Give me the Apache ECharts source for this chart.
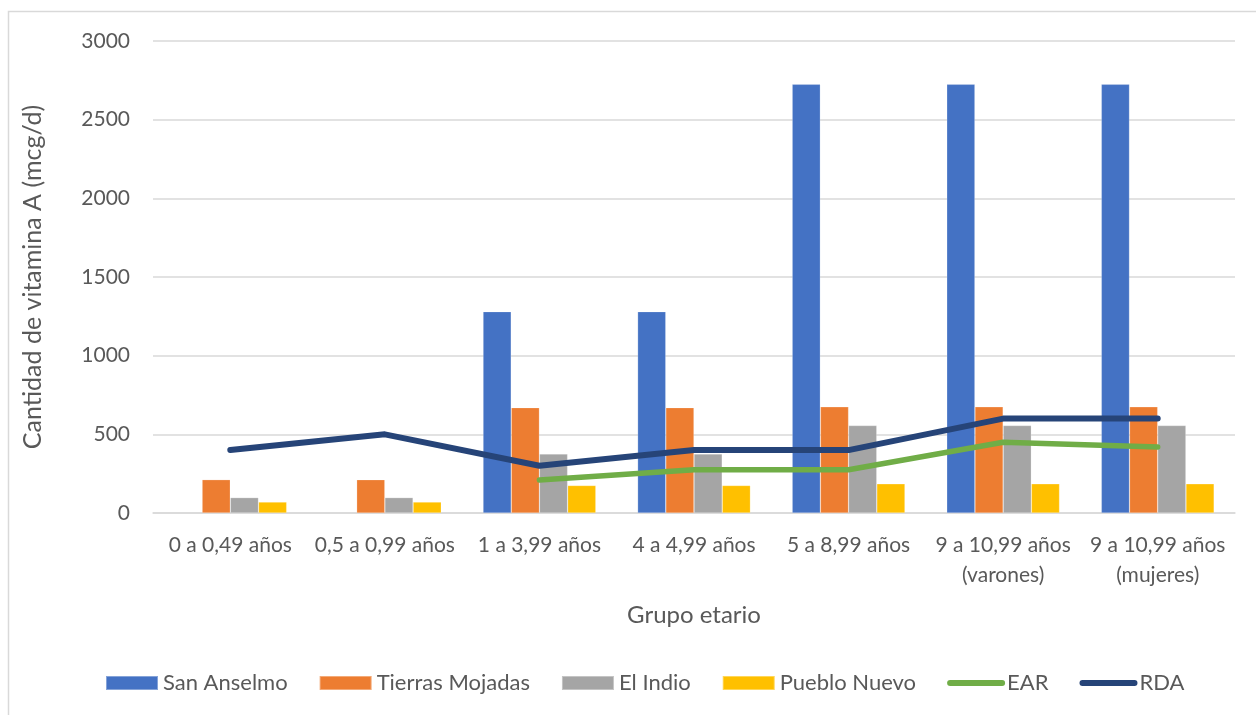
<!DOCTYPE html>
<html>
<head>
<meta charset="utf-8">
<script src="https://cdn.jsdelivr.net/npm/echarts@6/dist/echarts.min.js"></script>
<style>
  html, body { margin: 0; padding: 0; background: #ffffff; }
  #chart { width: 1256px; height: 715px; }
</style>
</head>
<body>
<div id="chart"></div>
<script>
// Age groups (x axis)
const categories = [
  '0 a 0,49 años',
  '0,5 a 0,99 años',
  '1 a 3,99 años',
  '4 a 4,99 años',
  '5 a 8,99 años',
  '9 a 10,99 años\n(varones)',
  '9 a 10,99 años\n(mujeres)'
];

// Vitamin A intake by community (mcg/d)
const sanAnselmo     = [null, null, 1280, 1280, 2725, 2725, 2725];
const tierrasMojadas = [212, 212, 670, 670, 675, 675, 675];
const elIndio        = [98, 98, 375, 375, 556, 556, 556];
const puebloNuevo    = [70, 70, 175, 175, 186, 186, 186];

// Reference values
const ear = [null, null, 210, 275, 275, 450, 420];
const rda = [400, 500, 300, 400, 400, 600, 600];

// Y axis ticks
const yTicks = [0, 500, 1000, 1500, 2000, 2500, 3000];

const FONT = 'Lato';
const TEXT = '#595959';
const GRID = '#d9d9d9';

const chart = echarts.init(document.getElementById('chart'), null, { renderer: 'canvas' });

const barSeries = (name, data, color) => ({
  name, type: 'bar', data,
  barGap: '0%', barCategoryGap: '27%',
  itemStyle: { color, borderColor: 'rgba(255,255,255,0.35)', borderWidth: 0.6 },
  emphasis: { disabled: true }
});

const lineSeries = (name, data, color, width) => ({
  name, type: 'line', data,
  symbol: 'none', showSymbol: false,
  lineStyle: { color, width, cap: 'round', join: 'round' },
  itemStyle: { color },
  emphasis: { disabled: true },
  z: 5
});

// Legend entry for a line series: thick rounded stroke, no marker
const lineLegend = (name, color) => ({
  name,
  itemStyle: { color: 'transparent', borderWidth: 0 },
  lineStyle: { color, width: 6, cap: 'round' }
});

chart.setOption({
  animation: false,
  backgroundColor: '#ffffff',
  textStyle: { fontFamily: FONT },
  graphic: [
    {
      type: 'polyline', silent: true,
      shape: { points: [[8.5, 715], [8.5, 11.5], [1256, 11.5]] },
      style: { stroke: GRID, lineWidth: 1.5, fill: null }
    }
  ],
  grid: { left: 153, right: 21, top: 41, bottom: 202, containLabel: false },
  legend: {
    bottom: 16,
    left: 100,
    itemWidth: 52,
    itemHeight: 14,
    itemGap: 31,
    textStyle: { fontFamily: FONT, fontSize: 22, color: TEXT },
    data: [
      { name: 'San Anselmo', icon: 'rect' },
      { name: 'Tierras Mojadas', icon: 'rect' },
      { name: 'El Indio', icon: 'rect' },
      { name: 'Pueblo Nuevo', icon: 'rect' },
      lineLegend('EAR', '#70AD47'),
      lineLegend('RDA', '#264478')
    ]
  },
  xAxis: {
    type: 'category',
    data: categories,
    name: 'Grupo etario',
    nameLocation: 'middle',
    nameGap: 90,
    nameTextStyle: { fontFamily: FONT, fontSize: 24, color: TEXT },
    axisLine: { show: true, lineStyle: { color: GRID, width: 1.5 } },
    axisTick: { show: false },
    axisLabel: { fontFamily: FONT, fontSize: 21, color: TEXT, margin: 17, lineHeight: 30, interval: 0 }
  },
  yAxis: {
    type: 'value',
    min: yTicks[0],
    max: yTicks[yTicks.length - 1],
    interval: yTicks[1] - yTicks[0],
    name: 'Cantidad de vitamina A (mcg/d)',
    nameLocation: 'middle',
    nameGap: 108,
    nameRotate: 90,
    nameTextStyle: { fontFamily: FONT, fontSize: 25, color: TEXT },
    axisLine: { show: false },
    axisTick: { show: false },
    axisLabel: { fontFamily: FONT, fontSize: 21, color: TEXT, margin: 23, formatter: v => String(v) },
    splitLine: { show: true, lineStyle: { color: GRID, width: 1.5 } }
  },
  series: [
    barSeries('San Anselmo', sanAnselmo, '#4472C4'),
    barSeries('Tierras Mojadas', tierrasMojadas, '#ED7D31'),
    barSeries('El Indio', elIndio, '#A5A5A5'),
    barSeries('Pueblo Nuevo', puebloNuevo, '#FFC000'),
    lineSeries('EAR', ear, '#70AD47', 5.5),
    lineSeries('RDA', rda, '#264478', 6)
  ]
});
</script>
</body>
</html>
